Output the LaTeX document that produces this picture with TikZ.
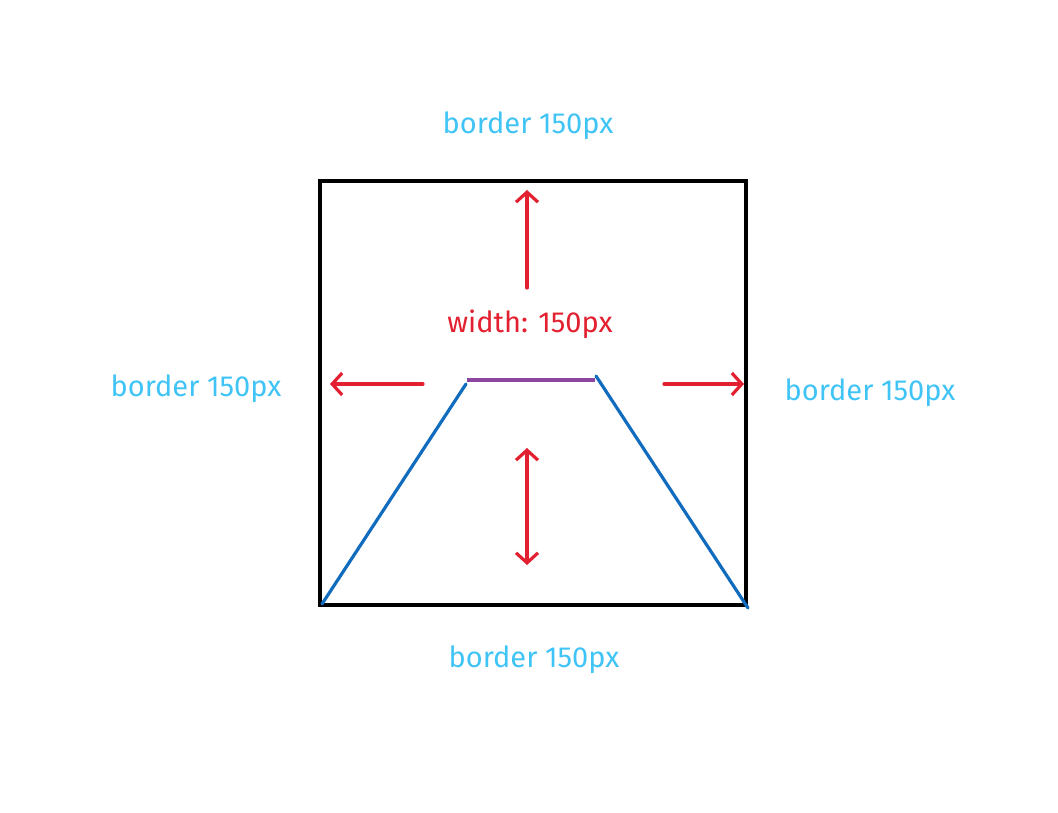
\documentclass[tikz,border=0pt]{standalone}
\usepackage{fontspec}
\setmainfont{Fira Sans}
\usetikzlibrary{arrows.meta}
\definecolor{lbl}{RGB}{64,196,245}
\definecolor{redx}{RGB}{226,32,48}
\definecolor{bluex}{RGB}{18,108,190}
\definecolor{purp}{RGB}{140,70,160}
\tikzset{
  lab/.style={text=lbl,font=\fontsize{29}{34}\selectfont},
  redlab/.style={text=redx,font=\fontsize{29}{34}\selectfont},
  frame/.style={draw=black,line width=3.8pt},
  side/.style={draw=bluex,line width=3.2pt,line cap=round},
  topline/.style={draw=purp,line width=3.6pt},
  redarrow/.style={draw=redx,line width=3.2pt,line cap=round,-{Straight Barb[length=10pt,width=22pt,line width=3.2pt]}},
  redboth/.style={draw=redx,line width=3.2pt,line cap=round,{Straight Barb[length=10pt,width=22pt,line width=3.2pt]}-{Straight Barb[length=10pt,width=22pt,line width=3.2pt]}}
}
\begin{document}
\begin{tikzpicture}[x=1pt,y=-1pt]
\useasboundingbox (0,0) rectangle (1058,813);
% frame
\draw[frame] (320,181) rectangle (746,605);
% trapezoid sides
\coordinate (bl) at (322,604);
\coordinate (tl) at (466,384);
\coordinate (tr) at (596,376);
\coordinate (br) at (748,608);
\draw[side] (bl) -- (tl);
\draw[side] (tr) -- (br);
\coordinate (pl) at (467,380);
\coordinate (pr) at (595,380);
\draw[topline] (pl) -- (pr);
% arrows
\coordinate (ua) at (527,288); \coordinate (ub) at (527,190);
\draw[redarrow] (ua) -- (ub);
\coordinate (la) at (423,384); \coordinate (lb) at (330,384);
\draw[redarrow] (la) -- (lb);
\coordinate (ra) at (664,384); \coordinate (rb) at (744,384);
\draw[redarrow] (ra) -- (rb);
\coordinate (da) at (527,448); \coordinate (db) at (527,565);
\draw[redboth] (da) -- (db);
% labels
\node[redlab] (w) at (530,324) {width: 150px};
\node[lab] (t) at (528,126) {border 150px};
\node[lab] (l) at (196,389) {border 150px};
\node[lab] (r) at (870,393) {border 150px};
\node[lab] (b) at (534,660) {border 150px};
\end{tikzpicture}
\end{document}
